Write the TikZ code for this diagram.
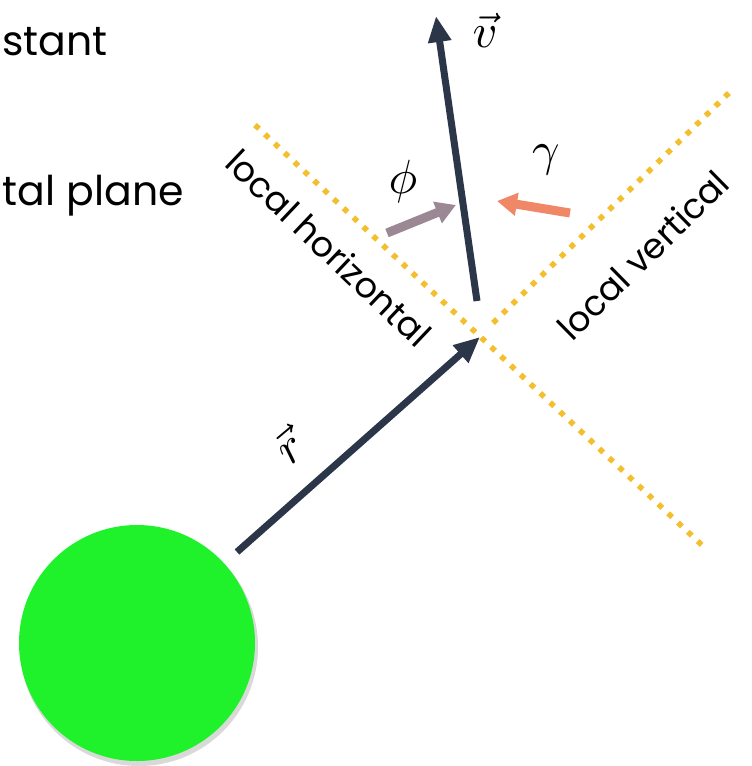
\documentclass[tikz,border=0pt]{standalone}
\usepackage{fontspec}
\setmainfont{Poppins}
\usetikzlibrary{arrows.meta}
\definecolor{navy}{HTML}{2B3649}
\definecolor{dotyel}{HTML}{F4BF2E}
\definecolor{earthgreen}{HTML}{1FF22A}
\definecolor{phicol}{HTML}{9C8894}
\definecolor{gamcol}{HTML}{F08868}
\tikzset{
  vecarrow/.style={draw=navy, line width=7pt, -{Triangle[length=26pt,width=22pt]}},
  smallarrow/.style={line width=9pt, -{Triangle[length=20pt,width=22pt]}},
  dotline/.style={draw=dotyel, line width=5.5pt, dash pattern=on 5.5pt off 8pt},
  lbl/.style={font=\fontsize{35}{38}\selectfont, inner sep=0pt},
  toptext/.style={font=\fontsize{41}{44}\selectfont, inner sep=0pt, anchor=base east},
  mathlbl/.style={inner sep=0pt}
}
\newcommand{\mysym}[1]{\scalebox{4.8}{$#1$}}
\begin{document}
\begin{tikzpicture}[x=1pt,y=-1pt]
\useasboundingbox (0,0) rectangle (752,766);
% cut-off titles
\node[toptext] (t1) at (108,55) {stant};
\node[toptext] (t2) at (184,205) {tal plane};
% earth
\fill[black!15] (139,647) circle (119);
\node[circle, fill=earthgreen, minimum size=236pt, inner sep=0pt] (earth) at (137,643) {};
% dotted lines
\coordinate (h1) at (255,125);
\coordinate (h2) at (705,548);
\coordinate (v1) at (493,323);
\coordinate (v2) at (733,89);
\draw[dotline] (h1) -- (h2);
\draw[dotline] (v1) -- (v2);
% r vector
\coordinate (rS) at (237,552);
\coordinate (rE) at (480,337);
\draw[vecarrow] (rS) -- (rE);
\node[mathlbl, rotate=40] (rlbl) at (288,446) {\mysym{\vec{r}}};
% v vector
\coordinate (vS) at (477,301);
\coordinate (vE) at (436,16);
\draw[vecarrow] (vS) -- (vE);
\node[mathlbl] (vlbl) at (485,30) {\mysym{\vec{v}}};
% phi and gamma arrows
\coordinate (pS) at (387,233);
\coordinate (pE) at (456,205);
\draw[smallarrow, draw=phicol, fill=phicol] (pS) -- (pE);
\node[mathlbl] (philbl) at (403,181) {\mysym{\phi}};
\coordinate (gS) at (570,213);
\coordinate (gE) at (497,201);
\draw[smallarrow, draw=gamcol, fill=gamcol] (gS) -- (gE);
\node[mathlbl] (gamlbl) at (546,160) {\mysym{\gamma}};
% line labels
\node[lbl, rotate=-43.5] (lh) at (329,248) {local horizontal};
\node[lbl, rotate=44.5] (lv) at (643,255) {local vertical};
\end{tikzpicture}
\end{document}
